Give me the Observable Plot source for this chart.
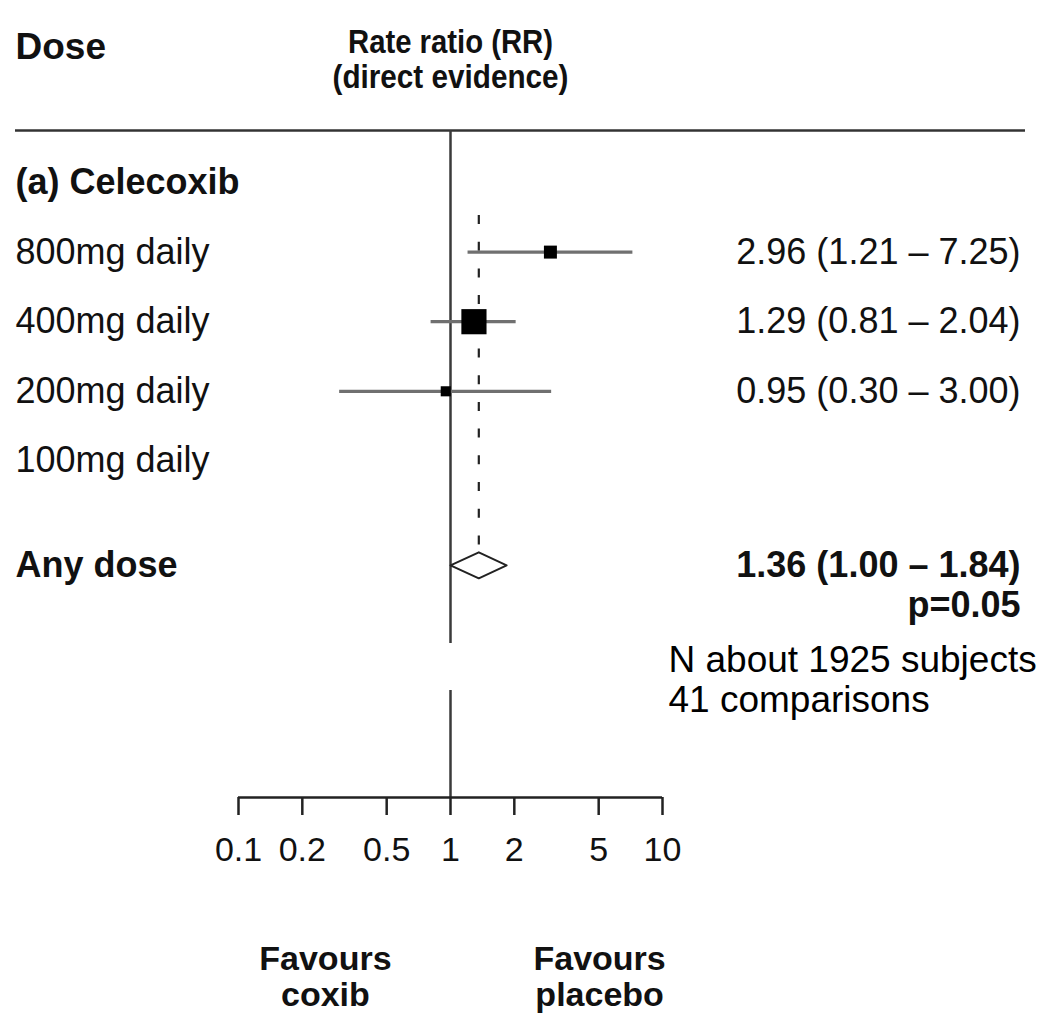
<!DOCTYPE html>
<html>
<head>
<meta charset="utf-8">
<script src="https://cdn.jsdelivr.net/npm/d3@7"></script>
<script src="https://cdn.jsdelivr.net/npm/@observablehq/plot@0.6"></script>
<style>
  html, body { margin: 0; padding: 0; background: #fff; }
  #chart svg { display: block; }
</style>
</head>
<body>
<div id="chart"></div>
<script>
// ---------------- DATA ----------------
const groupLabel = "(a) Celecoxib";
const doseLabels = ["800mg daily", "400mg daily", "200mg daily", "100mg daily"];
const rrValues = [2.96, 1.29, 0.95, null];
const rrLower = [1.21, 0.81, 0.30, null];
const rrUpper = [7.25, 2.04, 3.00, null];
const rrTexts = ["2.96 (1.21 – 7.25)", "1.29 (0.81 – 2.04)", "0.95 (0.30 – 3.00)", ""];

const summaryLabel = "Any dose";
const summaryRR = 1.36;
const summaryLower = 1.00;
const summaryUpper = 1.84;
const summaryText = "1.36 (1.00 – 1.84)";
const summaryP = "p=0.05";

const headerDose = "Dose";
const headerRRLines = ["Rate ratio (RR)", "(direct evidence)"];
const axisTicks = [0.1, 0.2, 0.5, 1, 2, 5, 10];
const axisTickLabels = ["0.1", "0.2", "0.5", "1", "2", "5", "10"];
const favourTop = ["Favours", "Favours"];
const favourBottom = ["coxib", "placebo"];
const noteLines = ["N about 1925 subjects", "41 comparisons"];

// ---------------- LAYOUT ----------------
const W = 1046, H = 1016;
const rowStep = 69.6, row0 = 182;          // pixel layout of row units
const px = v => v / rowStep;               // pixel offset -> row units
const yDomain = [-row0 / rowStep, (H - row0) / rowStep];

const groupRow = 0;
const summaryRow = doseLabels.length + 1.5;
const pRow = summaryRow + px(40);
const headerLineRow = -px(52);
const doseHeaderRow = -px(135);
const rrHeaderRows = [-px(140), -px(105)];
const headerWidths = [205, 236];           // header lines are set condensed
const upperLineEnd = px(461);
const lowerLineStart = px(508);
const axisRow = px(615);
const tickLen = px(18);
const tickLabelRow = px(668);
const favourRows = [px(777), px(813)];
const favourX = [0.257, 5.05];
const noteRows = [px(478), px(518)];
const diamondH = px(13);
const dashTop = px(33);

const font = "'Liberation Sans', Arial, Helvetica, sans-serif";

// study table built from arrays
const studies = doseLabels.map((label, i) => {
  const lo = rrLower[i], hi = rrUpper[i];
  const se = lo != null ? (Math.log(hi) - Math.log(lo)) / (2 * 1.96) : null;
  return {label, row: i + 1, rr: rrValues[i], lo, hi, w: se ? 1 / (se * se) : null, text: rrTexts[i]};
});
const withEst = studies.filter(d => d.rr != null);
const maxW = d3.max(withEst, d => d.w);

const diamond = [
  {x: summaryLower, y: summaryRow},
  {x: summaryRR, y: summaryRow - diamondH},
  {x: summaryUpper, y: summaryRow},
  {x: summaryRR, y: summaryRow + diamondH}
];

const textCol = "#111";

const chart = Plot.plot({
  width: W,
  height: H,
  marginLeft: 15,
  marginRight: 21,
  marginTop: 0,
  marginBottom: 0,
  style: {fontFamily: font, background: "#fff", color: textCol},
  x: {type: "log", domain: [0.1, 10], range: [238, 662], axis: null},
  y: {domain: yDomain, range: [0, H], axis: null},
  r: {type: "sqrt", domain: [0, maxW], range: [0, 14.2]},
  marks: [
    // header rule
    Plot.ruleY([headerLineRow], {stroke: "#333", strokeWidth: 2.5}),
    // line of no effect
    Plot.ruleX([1], {y1: headerLineRow, y2: upperLineEnd, stroke: "#3a3a3a", strokeWidth: 2.5}),
    Plot.ruleX([1], {y1: lowerLineStart, y2: axisRow, stroke: "#3a3a3a", strokeWidth: 2.5}),
    // summary dashed line
    Plot.ruleX([summaryRR], {y1: dashTop, y2: summaryRow - diamondH, stroke: "#222", strokeWidth: 2.2, strokeDasharray: "9,17.7"}),
    // CIs
    Plot.ruleY(withEst, {y: "row", x1: "lo", x2: "hi", stroke: "#707070", strokeWidth: 3.2}),
    // squares
    Plot.dot(withEst, {x: "rr", y: "row", r: "w", symbol: "square", fill: "#000", stroke: null}),
    // diamond
    Plot.line(diamond, {x: "x", y: "y", curve: "linear-closed", stroke: "#222", strokeWidth: 2, fill: "#fff"}),

    // left labels
    Plot.text([groupLabel], {frameAnchor: "left", y: groupRow, text: d => d, textAnchor: "start", fontSize: 36, fontWeight: "bold", fill: textCol}),
    Plot.text(studies, {frameAnchor: "left", y: "row", text: "label", textAnchor: "start", fontSize: 36, fill: textCol}),
    Plot.text([summaryLabel], {frameAnchor: "left", y: summaryRow, text: d => d, textAnchor: "start", fontSize: 36, fontWeight: "bold", fill: textCol}),

    // right labels
    Plot.text(studies, {frameAnchor: "right", dx: -5, y: "row", text: "text", textAnchor: "end", fontSize: 36, fill: textCol}),
    Plot.text([summaryText], {frameAnchor: "right", dx: -5, y: summaryRow, text: d => d, textAnchor: "end", fontSize: 36, fontWeight: "bold", fill: textCol}),
    Plot.text([summaryP], {frameAnchor: "right", dx: -5, y: pRow, text: d => d, textAnchor: "end", fontSize: 36, fontWeight: "bold", fill: textCol}),

    // headers
    Plot.text([headerDose], {frameAnchor: "left", y: doseHeaderRow, text: d => d, textAnchor: "start", fontSize: 37, fontWeight: "bold", fill: textCol}),
    Plot.text(headerRRLines, {x: 1, y: (d, i) => rrHeaderRows[i], text: d => d, textAnchor: "middle", fontSize: 33, fontWeight: "bold", fill: textCol}),

    // axis
    Plot.ruleY([axisRow], {x1: 0.1, x2: 10, stroke: "#222", strokeWidth: 2.5}),
    Plot.ruleX(axisTicks, {x: d => d, y1: axisRow, y2: axisRow + tickLen, stroke: "#222", strokeWidth: 2.5}),
    Plot.text(axisTicks, {x: d => d, y: tickLabelRow, text: (d, i) => axisTickLabels[i], fontSize: 34, fill: textCol}),

    // favours
    Plot.text(favourTop, {x: (d, i) => favourX[i], y: favourRows[0], text: d => d, fontSize: 34, fontWeight: "bold", fill: textCol}),
    Plot.text(favourBottom, {x: (d, i) => favourX[i], y: favourRows[1], text: d => d, fontSize: 34, fontWeight: "bold", fill: textCol}),

    // note
    Plot.text(noteLines, {x: 10, dx: 6, y: (d, i) => noteRows[i], text: d => d, textAnchor: "start", fontSize: 37, fill: "#000"})
  ]
});

document.getElementById("chart").append(chart);

// set the column header condensed, as in the reference
chart.querySelectorAll("text").forEach(el => {
  const k = headerRRLines.indexOf(el.textContent);
  if (k >= 0) {
    el.setAttribute("textLength", headerWidths[k]);
    el.setAttribute("lengthAdjust", "spacingAndGlyphs");
  }
});
</script>
</body>
</html>
